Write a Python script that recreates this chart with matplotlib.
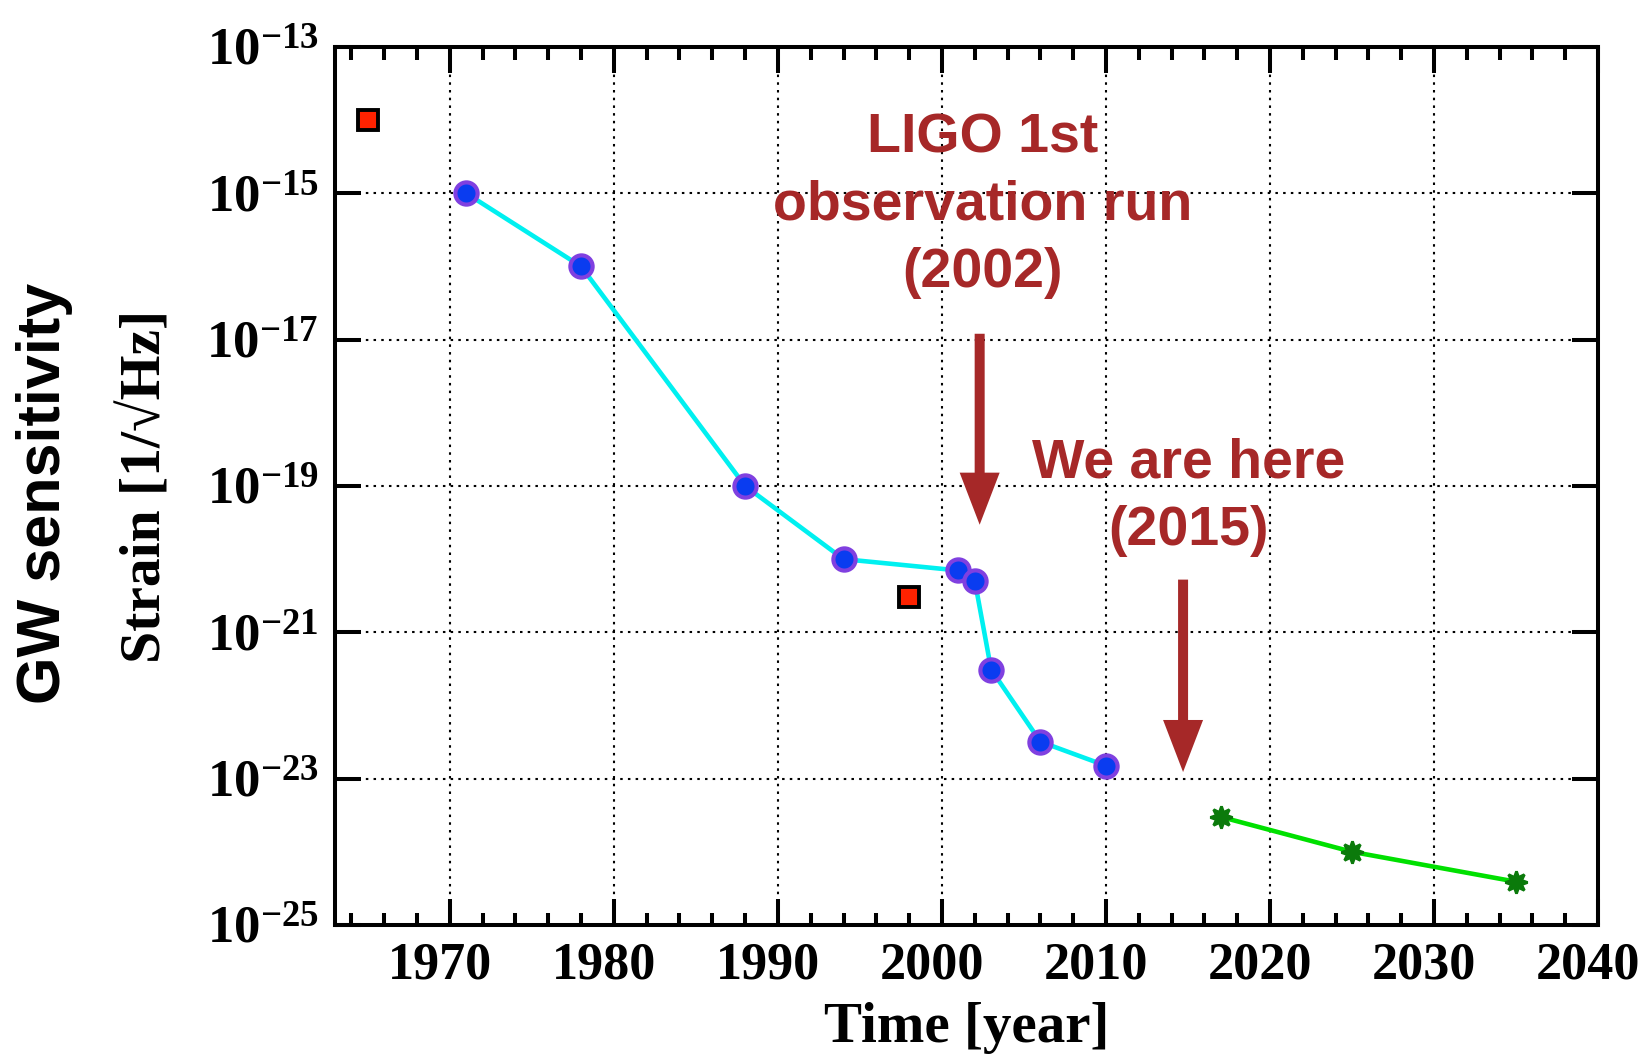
import matplotlib
matplotlib.use("Agg")
import matplotlib.pyplot as plt
import matplotlib.transforms as mtransforms
from matplotlib.ticker import FixedLocator, MultipleLocator, NullLocator

# ---------------- DATA ----------------
# measured detectors (cyan line)
det_years = [1971, 1978, 1988, 1994, 2001, 2002, 2003, 2006, 2010]
det_strain = [1e-15, 1e-16, 1e-19, 1e-20, 7e-21, 5.1e-21, 3.1e-22, 3.2e-23, 1.5e-23]

# isolated red squares
bar_years = [1965, 1998]
bar_strain = [1e-14, 3e-21]

# future projections (green line)
fut_years = [2017, 2025, 2035]
fut_strain = [3e-24, 1e-24, 3.9e-25]

ytick_vals = [1e-25, 1e-23, 1e-21, 1e-19, 1e-17, 1e-15, 1e-13]
ytick_labels = [r"$10^{-25}$", r"$10^{-23}$", r"$10^{-21}$", r"$10^{-19}$",
                r"$10^{-17}$", r"$10^{-15}$", r"$10^{-13}$"]
xtick_vals = [1970, 1980, 1990, 2000, 2010, 2020, 2030, 2040]

ligo_text = "LIGO 1st\nobservation run\n(2002)"
here_text = "We are here\n(2015)"

# ---------------- STYLE ----------------
plt.rcParams["mathtext.fontset"] = "custom"
plt.rcParams["mathtext.rm"] = "Liberation Serif:bold"
plt.rcParams["mathtext.bf"] = "Liberation Serif:bold"
plt.rcParams["mathtext.it"] = "Liberation Serif:bold:italic"
plt.rcParams["font.family"] = ["Liberation Serif", "DejaVu Serif"]
plt.rcParams["font.weight"] = "bold"

RED = "#a62828"
SANS = ["Liberation Sans", "DejaVu Sans"]

fig = plt.figure(figsize=(16.47, 10.57), dpi=100)
ax = fig.add_axes([0.2034, 0.1249, 0.7669, 0.8307])

ax.set_yscale("log")
ax.set_xlim(1963, 2040)
ax.set_ylim(1e-25, 1e-13)

ax.plot(det_years, det_strain, color="#00f0f0", lw=3.3, marker="o", ms=16,
        mfc="#0a3cf0", mec="#8040e0", mew=3, zorder=4)
ax.plot(bar_years, bar_strain, ls="none", marker="s", ms=14.5,
        mfc="#ff2200", mec="black", mew=2.8, zorder=4)
ax.plot(fut_years, fut_strain, color="#00e000", lw=3.3, marker=(8, 1, 0), ms=16,
        mfc="#0b7a0b", mec="#0b7a0b", mew=2, zorder=4)

# ticks
ax.yaxis.set_major_locator(FixedLocator(ytick_vals))
ax.yaxis.set_minor_locator(NullLocator())
ax.set_yticklabels(ytick_labels)
ax.xaxis.set_major_locator(FixedLocator(xtick_vals))
ax.xaxis.set_minor_locator(MultipleLocator(2))
ax.tick_params(which="both", direction="in", top=True, right=True, width=2.9)
ax.tick_params(which="major", length=19)
ax.tick_params(which="minor", length=9)
ax.tick_params(axis="x", labelsize=37.5, pad=12)
ax.tick_params(axis="y", labelsize=38, pad=12)
# the year labels sit a little left of their ticks in the original
shift = mtransforms.ScaledTranslation(-7 / 72, 0, fig.dpi_scale_trans)
for lab in ax.get_xticklabels():
    lab.set_fontweight("bold")
    lab.set_transform(lab.get_transform() + shift)
for sp in ax.spines.values():
    sp.set_linewidth(2.9)

ax.grid(True, which="major", color="black", ls=(0, (1.2, 2.5)), lw=1.5)

ax.set_xlabel("Time [year]", fontsize=41, fontweight="bold", labelpad=9)
ax.set_ylabel("Strain [1/√Hz]", fontsize=41.5, fontweight="bold", labelpad=24)

fig.text(0.027, 0.533, "GW sensitivity", rotation=90, ha="center", va="center",
         fontsize=44, fontweight="bold", family=SANS)

# annotations
ax.text(2002.5, 10**-15.17, ligo_text, color=RED, fontsize=40, fontweight="bold",
        ha="center", va="center", linespacing=1.39, family=SANS, zorder=5)
ax.text(2015.05, 10**-19.15, here_text, color=RED, fontsize=40, fontweight="bold",
        ha="center", va="center", linespacing=1.39, family=SANS, zorder=5)

arrow = dict(arrowstyle="simple,head_length=1.25,head_width=0.96,tail_width=0.24",
             fc=RED, ec="none", mutation_scale=30, shrinkA=0, shrinkB=0)
ax.annotate("", xy=(2002.3, 10**-19.53), xytext=(2002.3, 10**-16.92), arrowprops=arrow, zorder=5)
ax.annotate("", xy=(2014.7, 10**-22.91), xytext=(2014.7, 10**-20.28), arrowprops=arrow, zorder=5)

fig.savefig("out.png", dpi=100)
